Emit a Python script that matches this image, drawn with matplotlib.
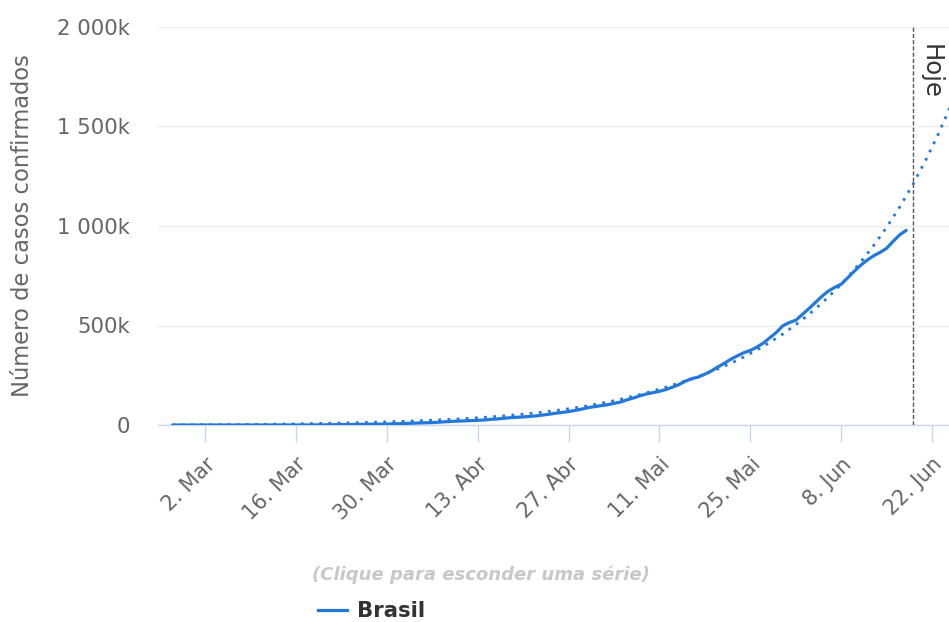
import matplotlib
matplotlib.use("Agg")
import matplotlib.pyplot as plt
from matplotlib.lines import Line2D
from matplotlib.transforms import ScaledTranslation
import pandas as pd
import numpy as np

plt.rcParams['font.family'] = ['DejaVu Sans']

# ---- data ----
confirmed_start = "2020-02-26"
confirmed = [1, 1, 1, 2, 2, 2, 2, 4, 4, 13, 13, 20, 25, 31, 38, 52, 151, 151, 162, 200,
             321, 372, 621, 793, 1021, 1546, 1924, 2247, 2554, 2985, 3417, 3904, 4256, 4579,
             5717, 6836, 8044, 9056, 10360, 11130, 12161, 14034, 16170, 18092, 19638, 20727,
             22192, 23430, 25262, 28320, 30425, 33682, 36599, 38654, 40581, 43079, 45757,
             50036, 54043, 59324, 63100, 67446, 73235, 79685, 87187, 92202, 97100, 101826,
             108620, 115455, 126611, 135773, 146894, 156061, 162699, 169594, 178214, 190137,
             203165, 220291, 233142, 241080, 255368, 271628, 291579, 310087, 330890, 347398,
             363211, 374898, 391222, 411821, 438238, 465166, 498440, 514849, 526447, 555383,
             584016, 614941, 645771, 672846, 691758, 707412, 739503, 772416, 802828, 828810,
             850514, 867624, 888271, 923189, 955377, 978142]

trend_start = "2020-02-26"   # one value every 2 days, in thousands
trend_k = [0.5, 0.7, 1.0, 1.3, 1.7, 2.2, 2.8, 3.5, 4.3, 5.2, 6.2, 7.3, 8.5, 9.8, 11.2,
           12.8, 14.6, 16.6, 18.8, 21.3, 24.0, 27.0, 30.4, 34.2, 38.5, 43.3, 48.6, 54.5, 61,
           68.5, 77, 86, 97, 109, 122, 137, 153, 171, 190, 211, 232, 256, 282, 310, 342, 377,
           415, 457, 504, 555, 612, 674, 743, 819, 902, 994, 1095, 1207, 1330, 1465, 1615, 1780]

today = "2020-06-19"
x_tick_dates = ["2020-03-02", "2020-03-16", "2020-03-30", "2020-04-13", "2020-04-27",
                "2020-05-11", "2020-05-25", "2020-06-08", "2020-06-22"]
x_tick_labels = ["2. Mar", "16. Mar", "30. Mar", "13. Abr", "27. Abr",
                 "11. Mai", "25. Mai", "8. Jun", "22. Jun"]
y_ticks = [0, 500000, 1000000, 1500000, 2000000]
y_tick_labels = ["0", "500k", "1 000k", "1 500k", "2 000k"]
series_name = "Brasil"

# ---- figure ----
W, H = 949, 622
fig = plt.figure(figsize=(W / 100, H / 100), dpi=100)
ax = fig.add_axes([158 / W, 1 - 425 / H, (W - 158) / W, (425 - 27) / H])

blue = '#2378db'
d_conf = pd.date_range(confirmed_start, periods=len(confirmed), freq='D')
d_trend = pd.date_range(trend_start, periods=len(trend_k), freq='2D')

ax.plot(d_trend, np.array(trend_k) * 1000, color=blue, lw=2.0,
        linestyle=(0, (1, 2.3)), dash_capstyle='butt', zorder=3)
ax.plot(d_conf, confirmed, color=blue, lw=2.3, solid_capstyle='round', zorder=4)

t0 = pd.Timestamp("2020-03-02")
ax.set_xlim(t0 - pd.Timedelta(days=7.24), t0 + pd.Timedelta(days=114.6))
ax.set_ylim(0, 2000000)

ax.set_xticks(pd.to_datetime(x_tick_dates))
ax.set_xticklabels(x_tick_labels, rotation=45, ha='right', va='top',
                   rotation_mode='anchor', color='#666666', fontsize=15)
for lab in ax.get_xticklabels():
    lab.set_transform(lab.get_transform() + ScaledTranslation(-4 / 100, 0, fig.dpi_scale_trans))
ax.set_yticks(y_ticks)
ax.set_yticklabels(y_tick_labels, color='#666666', fontsize=15.3)
ax.tick_params(axis='x', length=12, width=1, color='#ccd6eb', pad=9)
ax.tick_params(axis='y', length=0, pad=20)

for s in ['top', 'right', 'left']:
    ax.spines[s].set_visible(False)
ax.spines['bottom'].set_color('#ccd6eb')
ax.spines['bottom'].set_linewidth(1)
ax.grid(axis='y', color='#eeeeee', lw=1)
ax.set_axisbelow(True)

ax.set_ylabel("Número de casos confirmados", color='#666666', fontsize=16.3)
ax.yaxis.set_label_coords((34 - 158) / (W - 158), 0.5)

td = pd.Timestamp(today)
ax.axvline(td, color='#555555', lw=1, linestyle=(0, (3, 1.5)), zorder=5)
ax.text(td + pd.Timedelta(days=0.9), 1915000, "Hoje", rotation=270, ha='left', va='top',
        color='#333333', fontsize=17.5)

fig.text(481 / W, 1 - 575 / H, "(Clique para esconder uma série)", ha='center', va='center',
         color='#c8c8c8', fontsize=13, style='italic', weight='bold')
h = Line2D([], [], color=blue, lw=2.3)
leg = fig.legend([h], [series_name], loc='center', bbox_to_anchor=(371.5 / W, 1 - 611 / H),
                 frameon=False, handlelength=1.37, handletextpad=0.47,
                 prop={'weight': 'bold', 'size': 15.3})
for t in leg.get_texts():
    t.set_color('#333333')

fig.savefig("out.png", dpi=100)
